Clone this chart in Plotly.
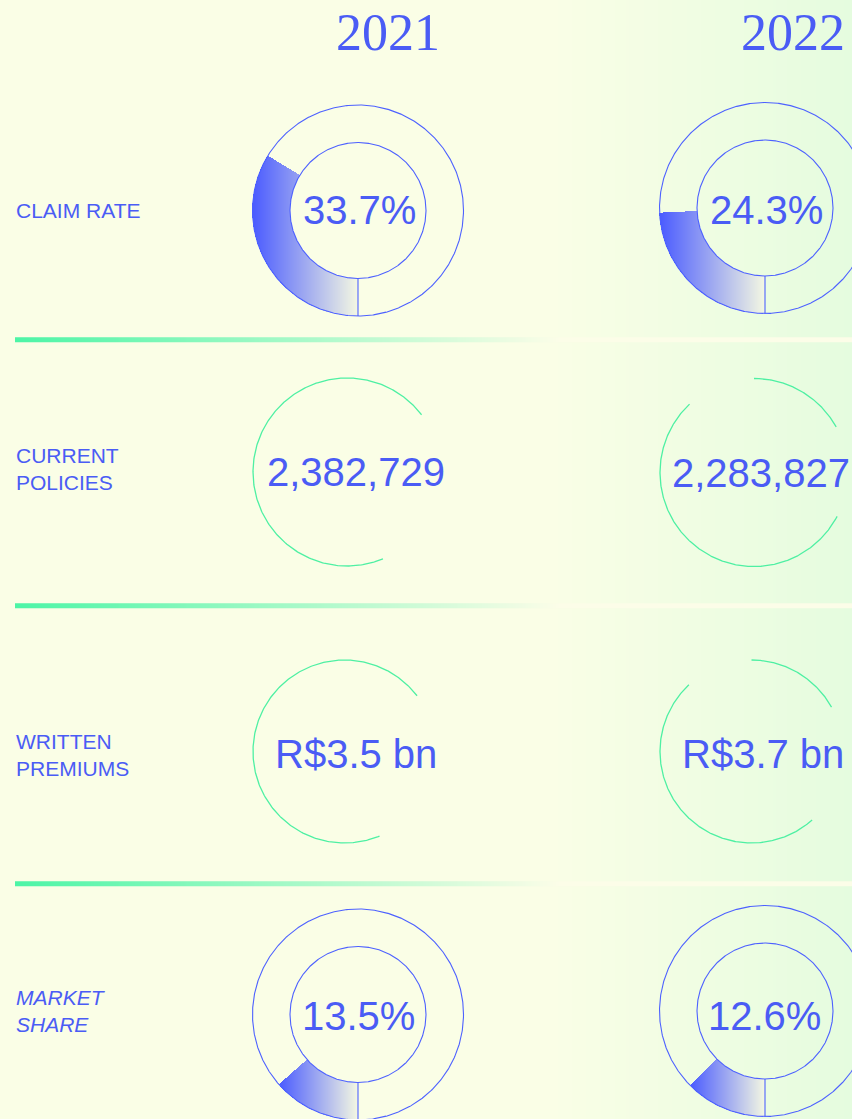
import numpy as np
import plotly.graph_objects as go

# ---------------- data ----------------
years = ["2021", "2022"]
row_labels = ["CLAIM RATE", "CURRENT<br>POLICIES", "WRITTEN<br>PREMIUMS", "<i>MARKET<br>SHARE</i>"]
claim_rate_pct = [33.7, 24.3]
current_policies = [2382729, 2283827]
written_premiums_bn = [3.5, 3.7]
market_share_pct = [13.5, 12.6]

# ---------------- layout / style constants (pixels) ----------------
W, H = 852, 1119
TEXT_BLUE = "#4a5cf5"
LINE_BLUE = "#4d61ff"
GREEN = "#4ef0a3"
BG_LEFT = "#fafee6"
BG_RIGHT = "#e5fcdf"
GRAD_START = "#4a5bff"
GRAD_END = "#f4f8e2"

header_xy = [(388, 32.5), (793, 32.5)]
label_x = 14
label_y = [210, 468.5, 754.5, 1010.75]
sep_y = [339.5, 605.5, 883.5]

R_OUT, R_IN = 105.5, 68
claim_centers = [(358, 210.5), (765, 208)]
share_centers = [(358, 1014.5), (765, 1011)]

policy_centers = [(347, 472), (754, 472.5)]
premium_centers = [(344.5, 751.5), (751.5, 751.5)]
policy_r, premium_r = 94, 91.5
policy_arcs = [[(37.5, 292.5)], [(133.3, 332.2), (29, 90)]]
premium_arcs = [[(37.5, 292.5)], [(133.2, 311.5), (29, 90)]]

claim_text_xy = [(359.5, 210), (766, 210)]
policy_text_xy = [(355.5, 472), (760.5, 472.5)]
premium_text_xy = [(356, 754), (762.5, 754)]
share_text_xy = [(358.5, 1015.5), (764, 1015.5)]

fig = go.Figure()

# ---------------- background gradient ----------------
bg_x0 = 550
bg_n = W - bg_x0
bg_t = [[i / (bg_n - 1) for i in range(bg_n)]]
fig.add_trace(go.Heatmap(z=bg_t, x0=bg_x0 + 0.5, dx=1, y0=H / 2, dy=H,
                         colorscale=[[0, BG_LEFT], [1, BG_RIGHT]], zmin=0, zmax=1,
                         showscale=False, hoverinfo="skip", zsmooth=False))

# ---------------- separator lines ----------------
sep_x0, sep_fade = 15, 545
sep_cols = W - sep_x0
sep_t = [[min(1.0, i / sep_fade) for i in range(sep_cols)]]
for yy in sep_y:
    fig.add_trace(go.Heatmap(z=sep_t, x0=sep_x0 + 0.5, dx=1, y0=yy, dy=4.5,
                             colorscale=[[0, "#4cf5a6"], [1, "#fcfde8"]], zmin=0, zmax=1,
                             showscale=False, hoverinfo="skip", zsmooth=False))


# ---------------- donut gradient segments ----------------
def gradient_segment(cx, cy, pct):
    theta_end = pct / 100.0 * 360.0
    xs = np.arange(np.floor(cx - R_OUT) - 1, np.ceil(cx + R_OUT) + 1) + 0.5
    ys = np.arange(np.floor(cy - R_OUT) - 1, np.ceil(cy + R_OUT) + 1) + 0.5
    X, Y = np.meshgrid(xs, ys)
    dx, dy = X - cx, Y - cy
    r = np.hypot(dx, dy)
    th = np.degrees(np.arctan2(-dx, dy)) % 360.0
    inside = (r >= R_IN) & (r <= R_OUT + 0.3) & (th <= theta_end)
    if theta_end >= 90:
        xmin = cx - R_OUT
    else:
        xmin = cx - R_OUT * np.sin(np.radians(theta_end))
    t = np.clip((X - xmin) / (cx - xmin), 0, 1)
    z = [[(round(float(t[i, j]), 4) if inside[i, j] else None) for j in range(len(xs))]
         for i in range(len(ys))]
    return go.Heatmap(z=z, x=xs, y=ys, colorscale=[[0, GRAD_START], [1, GRAD_END]],
                      zmin=0, zmax=1, showscale=False, hoverinfo="skip", zsmooth=False)


for (cx, cy), v in zip(claim_centers, claim_rate_pct):
    fig.add_trace(gradient_segment(cx, cy, v))
for (cx, cy), v in zip(share_centers, market_share_pct):
    fig.add_trace(gradient_segment(cx, cy, v))

# ---------------- donut outlines ----------------
lx, ly = [], []
ang = np.linspace(0, 2 * np.pi, 721)
for (cx, cy) in claim_centers + share_centers:
    for rr in (R_OUT, R_IN):
        lx += list(cx + rr * np.cos(ang)) + [None]
        ly += list(cy - rr * np.sin(ang)) + [None]
    lx += [cx, cx, None]
    ly += [cy + R_IN, cy + R_OUT, None]
fig.add_trace(go.Scatter(x=lx, y=ly, mode="lines", line=dict(color=LINE_BLUE, width=1.1),
                         hoverinfo="skip", showlegend=False))

# ---------------- green open rings ----------------
gx, gy = [], []
for centers, rad, arcs in ((policy_centers, policy_r, policy_arcs),
                           (premium_centers, premium_r, premium_arcs)):
    for (cx, cy), arcset in zip(centers, arcs):
        for a0, a1 in arcset:
            a = np.radians(np.linspace(a0, a1, 300))
            gx += list(cx + rad * np.cos(a)) + [None]
            gy += list(cy - rad * np.sin(a)) + [None]
fig.add_trace(go.Scatter(x=gx, y=gy, mode="lines", line=dict(color=GREEN, width=1.3),
                         hoverinfo="skip", showlegend=False))

# ---------------- texts ----------------
SANS = "Liberation Sans, Arial, Helvetica, sans-serif"
SERIF = "Liberation Serif, Times New Roman, serif"
ann = []
for (x, y), yr in zip(header_xy, years):
    ann.append(dict(x=x, y=y, text=yr, font=dict(family=SERIF, size=52, color=TEXT_BLUE)))
for yy, lab in zip(label_y, row_labels):
    ann.append(dict(x=label_x, y=yy, text=lab, xanchor="left", align="left",
                    font=dict(family=SANS, size=21, color=TEXT_BLUE)))

values_text = []
values_text += [(xy, f"{v:.1f}%") for xy, v in zip(claim_text_xy, claim_rate_pct)]
values_text += [(xy, f"{v:,}") for xy, v in zip(policy_text_xy, current_policies)]
values_text += [(xy, f"R${v:.1f} bn") for xy, v in zip(premium_text_xy, written_premiums_bn)]
values_text += [(xy, f"{v:.1f}%") for xy, v in zip(share_text_xy, market_share_pct)]
for (x, y), txt in values_text:
    ann.append(dict(x=x, y=y, text=txt, font=dict(family=SANS, size=40, color=TEXT_BLUE)))

for a in ann:
    a.setdefault("xanchor", "center")
    a["yanchor"] = "middle"
    a["showarrow"] = False
    a["xref"] = "x"
    a["yref"] = "y"

fig.update_layout(
    width=W, height=H,
    margin=dict(l=0, r=0, t=0, b=0),
    paper_bgcolor=BG_LEFT, plot_bgcolor=BG_LEFT,
    xaxis=dict(range=[0, W], visible=False, fixedrange=True),
    yaxis=dict(range=[H, 0], visible=False, fixedrange=True),
    showlegend=False,
    annotations=ann,
)

fig.write_html(
    "out.html",
    config={"displayModeBar": False},
    post_script="document.body.style.margin='0';document.body.style.overflow='hidden';"
                "document.body.style.background='" + BG_LEFT + "';",
)
